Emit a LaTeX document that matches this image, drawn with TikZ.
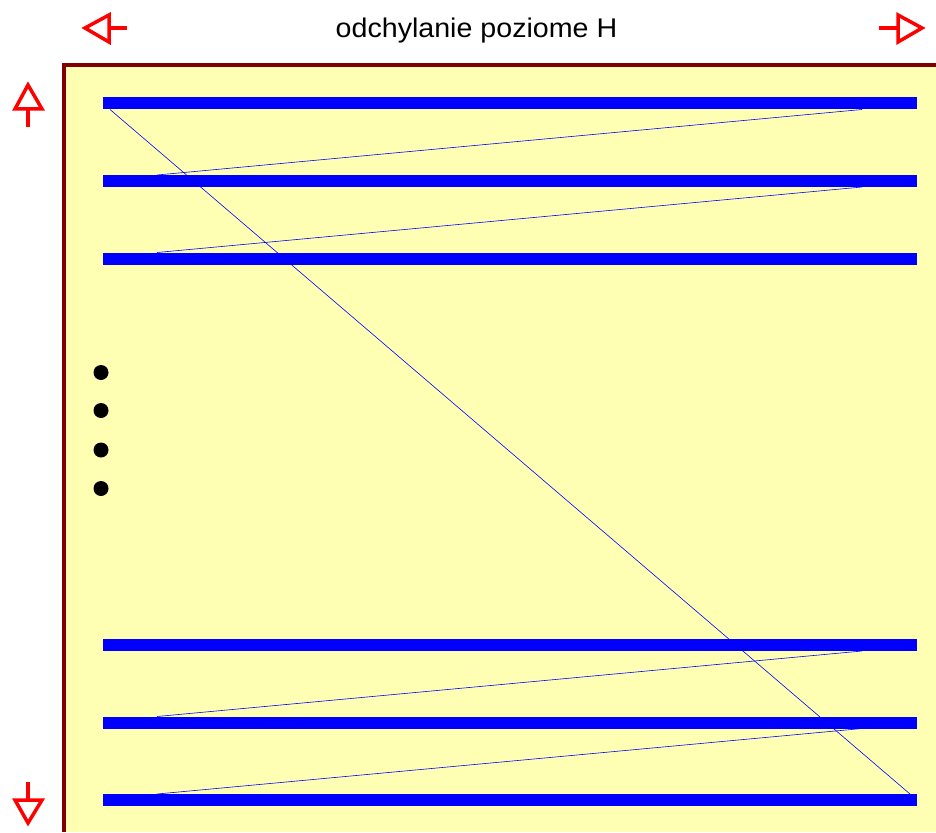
\documentclass[tikz,border=0pt]{standalone}
\usepackage{fontspec}
\setmainfont{Liberation Sans}
\usepackage{xcolor}
\usepackage{tikz}

\definecolor{ekran}{RGB}{255,255,180}
\definecolor{ramka}{RGB}{128,0,0}

\begin{document}
\begin{tikzpicture}[x=1pt,y=-1pt,
	linia/.style={line width=12, blue},
	powrot/.style={line width=0.6, blue},
	znacznik/.style={line width=3.5, red, line join=miter}]
\useasboundingbox (0,0) rectangle (936,832);

\fill[ekran] (64,65) rectangle (936,832);
\draw[ramka, line width=4] (64,832)--(64,65)--(936,65);

\foreach \n/\y in {1/103.5,2/181,3/258.5,4/645,5/722.5,6/800}{
	\coordinate (L\n) at (103,\y);
	\coordinate (R\n) at (917,\y);
	\coordinate (lt\n) at (157,\y-6);
	\coordinate (rb\n) at (862,\y+6);
}

\foreach \a/\b in {1/2,2/3,4/5,5/6}{
	\draw[powrot] (rb\a)--(lt\b);
}
\draw[powrot] (110,109.5)--(910,794);

\foreach \n in {1,...,6}{
	\draw[linia] (L\n)--(R\n);
}

\foreach \y in {372.5,410.5,450,488.5}{
	\fill (101,\y) circle (7.5);
}

\draw[znacznik] (85,28)--(109,15)--(109,42)--cycle;
\draw[znacznik] (109,28)--(127,28);
\draw[znacznik] (922,28)--(898,15)--(898,42)--cycle;
\draw[znacznik] (898,28)--(879,28);
\draw[znacznik] (28,85)--(15,109)--(42,109)--cycle;
\draw[znacznik] (28,109)--(28,127);
\draw[znacznik] (28,823)--(15,800)--(42,800)--cycle;
\draw[znacznik] (28,800)--(28,782);

\node[font=\fontsize{27}{31}\selectfont, anchor=base, xscale=1.06] (tytul) at (476.5,37.7) {odchylanie poziome H};

\end{tikzpicture}
\end{document}
